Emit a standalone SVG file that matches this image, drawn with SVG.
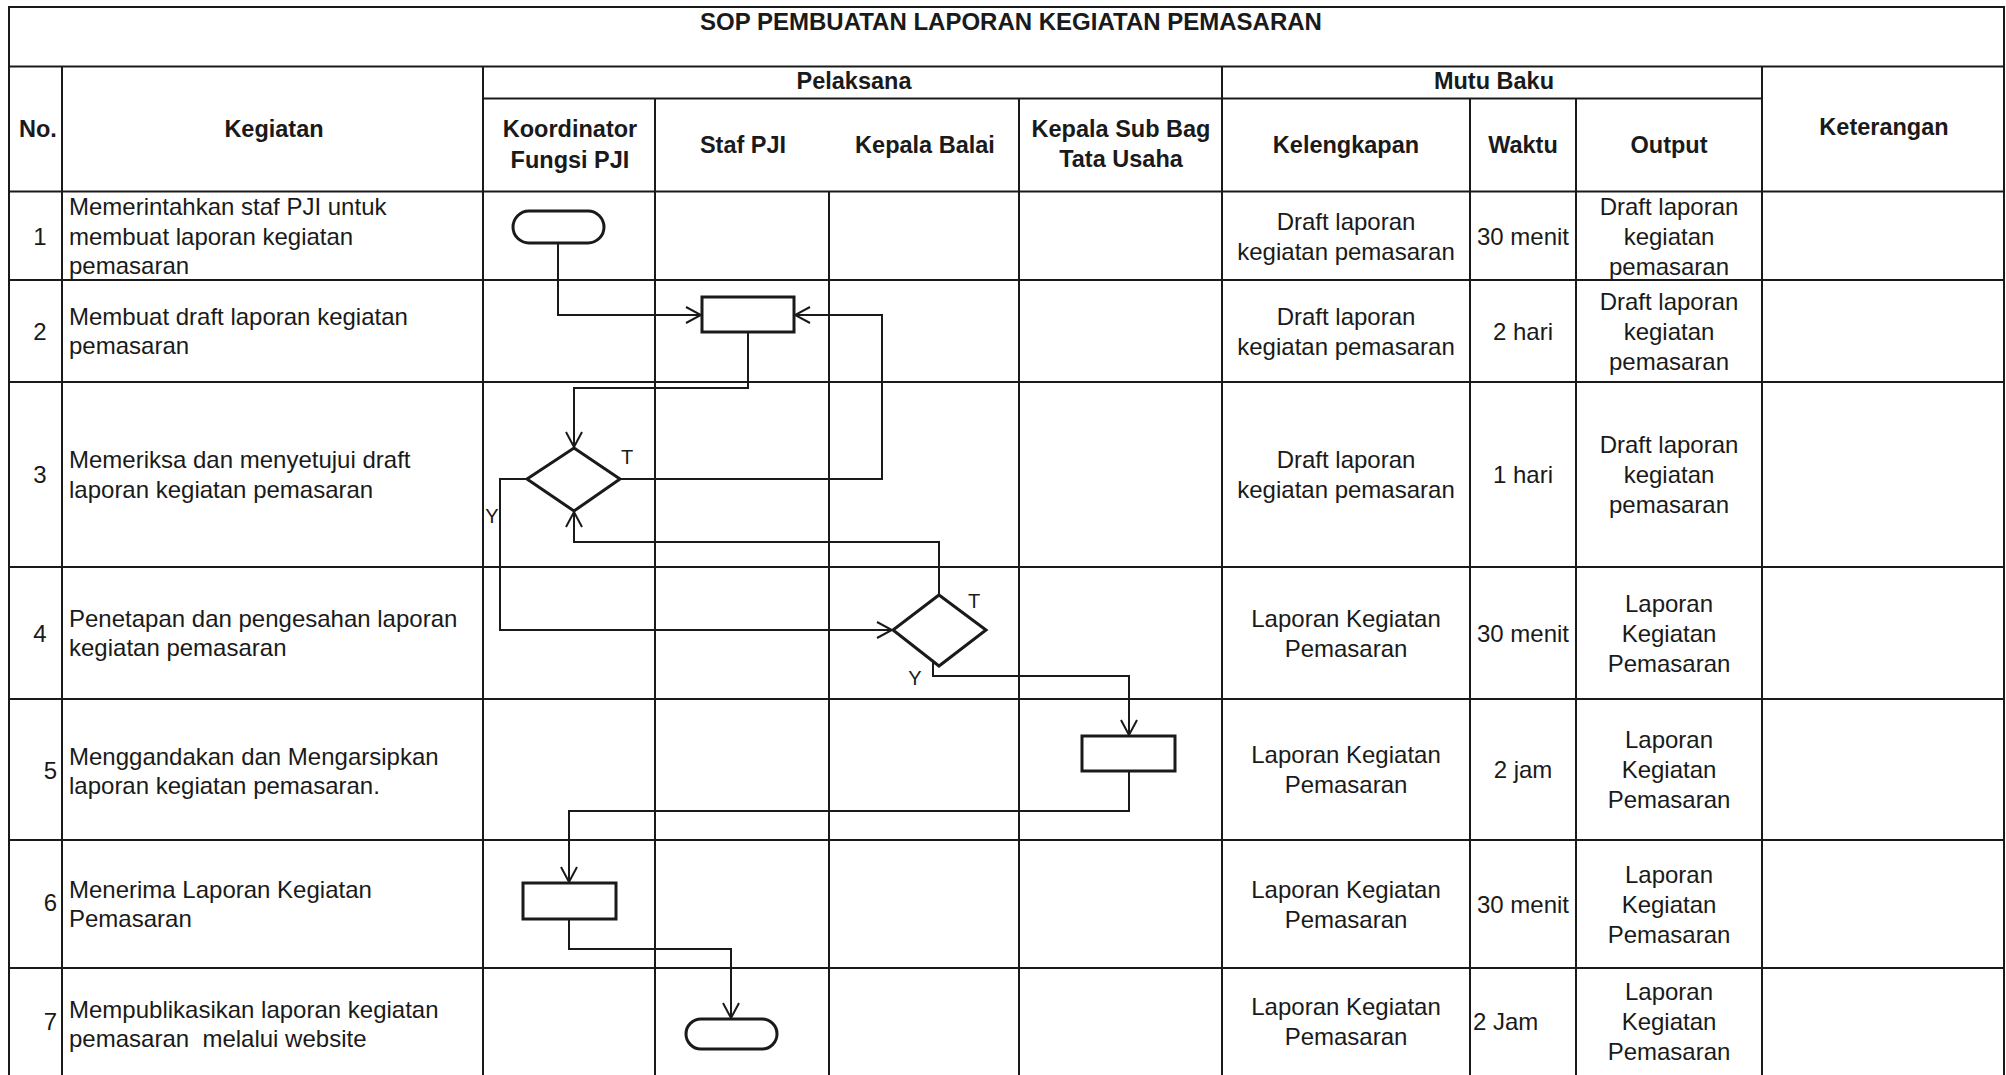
<svg xmlns="http://www.w3.org/2000/svg" width="2006" height="1075" viewBox="0 0 2006 1075">
<style>
.g{stroke:#1a1a1a;stroke-width:2;fill:none}
.s{stroke:#1a1a1a;stroke-width:3;fill:#fff}
.c{stroke:#1a1a1a;stroke-width:2;fill:none}
text{font-family:"Liberation Sans",Arial,sans-serif;font-size:24px;fill:#1a1a1a}
.b{font-weight:bold;font-size:23.5px}
.t{font-size:24px}
.m{text-anchor:middle}
.e{text-anchor:end}
.l{font-size:20px}
</style>
<defs>
<marker id="arr" viewBox="-17 -10 19 20" refX="0" refY="0" markerWidth="19" markerHeight="20" markerUnits="userSpaceOnUse" orient="auto">
<path d="M-15,-8 L0,0 L-15,8" fill="none" stroke="#1a1a1a" stroke-width="2"/>
</marker>
</defs>
<rect width="2006" height="1075" fill="#fff"/>
<g id="grid" class="g">
<path d="M9,1075 V7 H2004 V1075"/>
<path d="M9,66.5 H2004 M9,191.5 H2004 M9,280 H2004 M9,382 H2004 M9,567 H2004 M9,699 H2004 M9,840 H2004 M9,968 H2004"/>
<path d="M483,98.5 H1762"/>
<path d="M62,66.5 V1075 M483,66.5 V1075 M655,98.5 V1075 M829,191.5 V1075 M1019,98.5 V1075 M1222,66.5 V1075 M1470,98.5 V1075 M1576,98.5 V1075 M1762,66.5 V1075"/>
</g>
<g id="header">
<text class="b t m" x="1011" y="30">SOP PEMBUATAN LAPORAN KEGIATAN PEMASARAN</text>
<text class="b m" x="854" y="89">Pelaksana</text>
<text class="b m" x="1494" y="89">Mutu Baku</text>
<text class="b" x="19" y="137">No.</text>
<text class="b m" x="274" y="137">Kegiatan</text>
<text class="b m" x="570" y="137">Koordinator</text>
<text class="b m" x="570" y="168">Fungsi PJI</text>
<text class="b m" x="743" y="153">Staf PJI</text>
<text class="b m" x="925" y="153">Kepala Balai</text>
<text class="b m" x="1121" y="137">Kepala Sub Bag</text>
<text class="b m" x="1121" y="167">Tata Usaha</text>
<text class="b m" x="1346" y="153">Kelengkapan</text>
<text class="b m" x="1523" y="153">Waktu</text>
<text class="b m" x="1669" y="153">Output</text>
<text class="b m" x="1884" y="135">Keterangan</text>
</g>
<g id="rows">
<text class="m" x="40" y="244.5">1</text>
<text x="69" y="215">Memerintahkan staf PJI untuk</text>
<text x="69" y="244.5">membuat laporan kegiatan</text>
<text x="69" y="274">pemasaran</text>
<text class="m" x="40" y="339.5">2</text>
<text x="69" y="324.5">Membuat draft laporan kegiatan</text>
<text x="69" y="354">pemasaran</text>
<text class="m" x="40" y="483">3</text>
<text x="69" y="468">Memeriksa dan menyetujui draft</text>
<text x="69" y="497.5">laporan kegiatan pemasaran</text>
<text class="m" x="40" y="641.5">4</text>
<text x="69" y="626.5">Penetapan dan pengesahan laporan</text>
<text x="69" y="656">kegiatan pemasaran</text>
<text class="e" x="57" y="779">5</text>
<text x="69" y="764.5">Menggandakan dan Mengarsipkan</text>
<text x="69" y="794">laporan kegiatan pemasaran.</text>
<text class="e" x="57" y="911">6</text>
<text x="69" y="897.5">Menerima Laporan Kegiatan</text>
<text x="69" y="927">Pemasaran</text>
<text class="e" x="57" y="1030">7</text>
<text x="69" y="1017.5">Mempublikasikan laporan kegiatan</text>
<text x="69" y="1047" xml:space="preserve">pemasaran  melalui website</text>
</g>
<g id="mutu">
<text class="m" x="1346" y="229.5">Draft laporan</text>
<text class="m" x="1346" y="259.5">kegiatan pemasaran</text>
<text class="m" x="1523" y="244.5">30 menit</text>
<text class="m" x="1669" y="214.5">Draft laporan</text>
<text class="m" x="1669" y="244.5">kegiatan</text>
<text class="m" x="1669" y="274.5">pemasaran</text>

<text class="m" x="1346" y="324.5">Draft laporan</text>
<text class="m" x="1346" y="354.5">kegiatan pemasaran</text>
<text class="m" x="1523" y="339.5">2 hari</text>
<text class="m" x="1669" y="309.5">Draft laporan</text>
<text class="m" x="1669" y="339.5">kegiatan</text>
<text class="m" x="1669" y="369.5">pemasaran</text>

<text class="m" x="1346" y="468">Draft laporan</text>
<text class="m" x="1346" y="498">kegiatan pemasaran</text>
<text class="m" x="1523" y="483">1 hari</text>
<text class="m" x="1669" y="453">Draft laporan</text>
<text class="m" x="1669" y="483">kegiatan</text>
<text class="m" x="1669" y="513">pemasaran</text>

<text class="m" x="1346" y="626.5">Laporan Kegiatan</text>
<text class="m" x="1346" y="656.5">Pemasaran</text>
<text class="m" x="1523" y="641.5">30 menit</text>
<text class="m" x="1669" y="611.5">Laporan</text>
<text class="m" x="1669" y="641.5">Kegiatan</text>
<text class="m" x="1669" y="671.5">Pemasaran</text>

<text class="m" x="1346" y="763">Laporan Kegiatan</text>
<text class="m" x="1346" y="793">Pemasaran</text>
<text class="m" x="1523" y="778">2 jam</text>
<text class="m" x="1669" y="748">Laporan</text>
<text class="m" x="1669" y="778">Kegiatan</text>
<text class="m" x="1669" y="808">Pemasaran</text>

<text class="m" x="1346" y="897.5">Laporan Kegiatan</text>
<text class="m" x="1346" y="927.5">Pemasaran</text>
<text class="m" x="1523" y="912.5">30 menit</text>
<text class="m" x="1669" y="882.5">Laporan</text>
<text class="m" x="1669" y="912.5">Kegiatan</text>
<text class="m" x="1669" y="942.5">Pemasaran</text>

<text class="m" x="1346" y="1015">Laporan Kegiatan</text>
<text class="m" x="1346" y="1045">Pemasaran</text>
<text x="1473" y="1030">2 Jam</text>
<text class="m" x="1669" y="1000">Laporan</text>
<text class="m" x="1669" y="1030">Kegiatan</text>
<text class="m" x="1669" y="1060">Pemasaran</text>
</g>
<g id="connectors" class="c">
<path d="M558,243 V315 H701" marker-end="url(#arr)"/>
<path d="M748,332 V388 H574 V447" marker-end="url(#arr)"/>
<path d="M620,479 H882 V315 H795" marker-end="url(#arr)"/>
<path d="M527,479 H500 V630 H892" marker-end="url(#arr)"/>
<path d="M939,595 V542 H574 V512" marker-end="url(#arr)"/>
<path d="M933,656 V676 H1129 V735" marker-end="url(#arr)"/>
<path d="M1129,771 V811 H569 V882" marker-end="url(#arr)"/>
<path d="M569,919 V949 H731 V1018" marker-end="url(#arr)"/>
</g>
<g id="labels">
<text class="l m" x="627" y="464">T</text>
<text class="l m" x="492" y="523">Y</text>
<text class="l m" x="974" y="608">T</text>
<text class="l m" x="915" y="685">Y</text>
</g>
<g id="n1"><rect class="s" x="513" y="211" width="91" height="32" rx="16"/></g>
<g id="n2"><rect class="s" x="702" y="297" width="92" height="35"/></g>
<g id="n3"><polygon class="s" points="574,448 620,479 574,511 527,479"/></g>
<g id="n4"><polygon class="s" points="939,595 986,630 939,666 893,630"/></g>
<g id="n5"><rect class="s" x="1082" y="736" width="93" height="35"/></g>
<g id="n6"><rect class="s" x="523" y="883" width="93" height="36"/></g>
<g id="n7"><rect class="s" x="686" y="1019" width="91" height="30" rx="15"/></g>
</svg>
